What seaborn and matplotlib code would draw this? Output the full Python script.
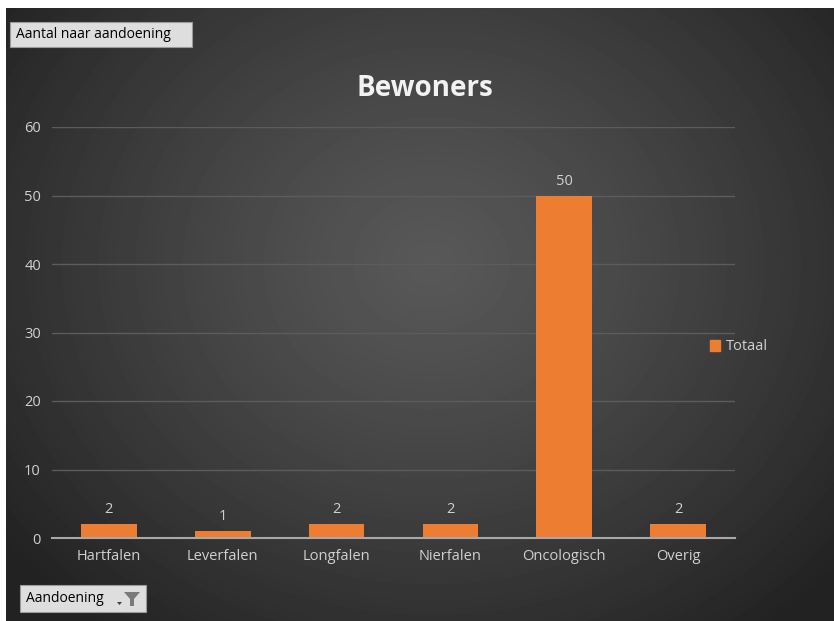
import numpy as np
import pandas as pd
import matplotlib
matplotlib.use("Agg")
import matplotlib.pyplot as plt
import seaborn as sns
from matplotlib.patches import Rectangle, Polygon, Patch

# Data
categories = ["Hartfalen", "Leverfalen", "Longfalen", "Nierfalen", "Oncologisch", "Overig"]
totaal = [2, 1, 2, 2, 50, 2]
y_ticks = [0, 10, 20, 30, 40, 50, 60]

df = pd.DataFrame({"Aandoening": categories, "Totaal": totaal})

sns.set_style("dark")
plt.rcParams["font.family"] = ["Open Sans", "DejaVu Sans"]

W, H = 834, 621
fig = plt.figure(figsize=(W / 100, H / 100), dpi=100)
fig.patch.set_facecolor("white")

# dark radial gradient background
bg = fig.add_axes([6 / W, 0, 1 - 6 / W, 1 - 8 / H])
bg.set_axis_off()
yy, xx = np.mgrid[0:613, 0:828]
r = np.hypot(xx - 425, (yy - 255) * 1.15)
shade = 88 - 54 * np.clip(r / 540, 0, 1) ** 1.2
bg.imshow(shade, cmap="gray", vmin=0, vmax=255, aspect="auto", interpolation="bilinear")

ax = fig.add_axes([52 / W, 1 - 538 / H, (735 - 52) / W, (538 - 127) / H])
ax.patch.set_alpha(0)
sns.barplot(data=df, x="Aandoening", y="Totaal", color="#ED7D31", width=0.49,
            saturation=1, ax=ax, zorder=3, edgecolor="none", linewidth=0)
ax.bar_label(ax.containers[0], padding=5, color="#d0d0d0", fontsize=10.5)

ax.set_ylim(0, 60)
ax.set_xlim(-0.5, 5.5)
ax.set_yticks(y_ticks)
ax.grid(axis="y", color="#5c5c5c", linewidth=1, zorder=0)
ax.grid(axis="x", visible=False)
for s in ["top", "right", "left"]:
    ax.spines[s].set_visible(False)
ax.spines["bottom"].set_color("#a8a8a8")
ax.spines["bottom"].set_linewidth(1.5)
ax.spines["bottom"].set_zorder(4)
ax.tick_params(axis="both", length=0, colors="#d0d0d0", labelsize=10.5)
ax.tick_params(axis="y", pad=8)
ax.tick_params(axis="x", pad=8)
ax.set_xlabel("")
ax.set_ylabel("")

fig.text(0.51, 1 - 88 / H, "Bewoners", ha="center", va="center", color="#f2f2f2",
         fontsize=20, fontweight="bold")

# legend
ax.legend(handles=[Patch(color="#ED7D31", label="Totaal")], loc="center left",
          bbox_to_anchor=(697 / W, 1 - 347 / H), bbox_transform=fig.transFigure,
          frameon=False, handlelength=0.7, handleheight=0.7, handletextpad=0.4,
          labelcolor="#d0d0d0", fontsize=10.5)

# field buttons
def button(x0, y0, x1, y1, label, funnel=False):
    fig.patches.append(Rectangle((x0 / W, 1 - y1 / H), (x1 - x0) / W, (y1 - y0) / H,
                                 transform=fig.transFigure, facecolor="#dedede",
                                 edgecolor="#9a9a9a", linewidth=0.8))
    fig.text((x0 + 6) / W, 1 - (y0 + y1) / 2 / H, label, ha="left", va="center",
             color="black", fontsize=10)
    if funnel:
        fx, fy = x1 - 22, y0 + 7
        pts = [(fx, fy), (fx + 16, fy), (fx + 10, fy + 7), (fx + 10, fy + 14),
               (fx + 6, fy + 14), (fx + 6, fy + 7)]
        fig.patches.append(Polygon([(px / W, 1 - py / H) for px, py in pts],
                                   transform=fig.transFigure, facecolor="#7a7a7a",
                                   edgecolor="none"))
        tri = [(fx - 7, fy + 10), (fx - 2, fy + 10), (fx - 4.5, fy + 13)]
        fig.patches.append(Polygon([(px / W, 1 - py / H) for px, py in tri],
                                   transform=fig.transFigure, facecolor="#404040",
                                   edgecolor="none"))

button(10, 22, 192, 47, "Aantal naar aandoening")
button(20, 585, 146, 612, "Aandoening", funnel=True)

fig.savefig("out.png", dpi=100, facecolor=fig.get_facecolor())
